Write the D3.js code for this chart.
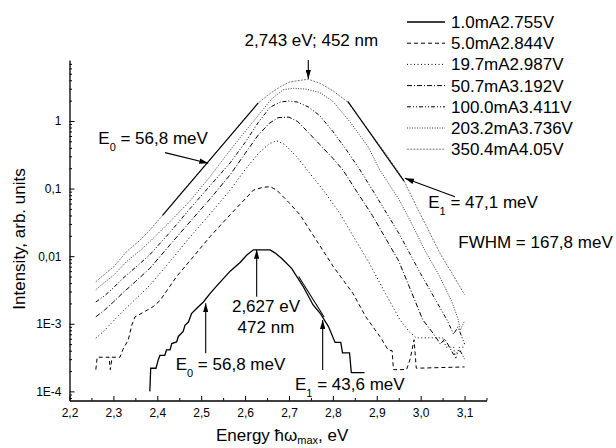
<!DOCTYPE html>
<html lang="en">
<head>
<meta charset="UTF-8">
<title>EL spectra</title>
<style>
  body { margin: 0; background: #fff; }
  text { font-family: "Liberation Sans", Arial, sans-serif; fill: #000; }
</style>
</head>
<body>
<script src="https://cdn.jsdelivr.net/npm/d3@7/dist/d3.min.js"></script>
<script>
const width = 616, height = 448

// legend labels (current / voltage)
const labels = ["1.0mA2.755V", "5.0mA2.844V", "19.7mA2.987V", "50.7mA3.192V",
                "100.0mA3.411V", "203.2mA3.736V", "350.4mA4.05V"]

// spectra: [energy eV, intensity arb. units]
const s1mA = [[2.383,1.0e-4],[2.385,2.2e-4],[2.397,2.2e-4],[2.402,2.9e-4],[2.406,3.4e-4],[2.417,3.4e-4],[2.421,4.1e-4],
  [2.429,4.1e-4],[2.433,5.1e-4],[2.444,5.4e-4],[2.448,6.5e-4],[2.459,7.7e-4],[2.463,9.5e-4],[2.471,1.06e-3],[2.478,1.42e-3],
  [2.490,1.7e-3],[2.505,2.1e-3],[2.52,2.8e-3],[2.535,3.6e-3],[2.566,6.0e-3],[2.588,8.0e-3],[2.604,0.0104],[2.619,0.0124],
  [2.657,0.0124],[2.668,0.0112],[2.683,0.0093],[2.706,0.0066],[2.733,0.0035],[2.755,0.0019],[2.771,1.43e-3],[2.790,9.1e-4],
  [2.805,5.3e-4],[2.818,5.3e-4],[2.822,3.7e-4],[2.838,3.7e-4],[2.842,1.9e-4],[2.872,1.9e-4]]
const s5mA = [[2.26,2.1e-4],[2.263,3.2e-4],[2.29,3.2e-4],[2.293,2.1e-4],[2.297,3.2e-4],[2.315,3.2e-4],[2.322,4.2e-4],
  [2.334,5.8e-4],[2.342,9.6e-4],[2.349,1.26e-3],[2.37,1.5e-3],[2.391,1.8e-3],[2.406,2.2e-3],[2.444,5.0e-3],[2.482,9.8e-3],
  [2.52,0.0194],[2.566,0.041],[2.60,0.07],[2.619,0.095],[2.64,0.104],[2.657,0.107],[2.672,0.095],[2.70,0.062],[2.725,0.041],
  [2.763,0.017],[2.801,0.007],[2.846,0.0028],[2.875,0.00127],[2.907,6.5e-4],[2.926,4.1e-4],[2.935,4.0e-4],[2.938,2.1e-4],
  [2.968,2.1e-4],[2.976,3.0e-4],[2.985,5.8e-4],[2.99,2.2e-4],[3.10,2.3e-4]]
const s19mA = [[2.26,6.1e-4],[2.28,8e-4],[2.30,1.1e-3],[2.32,1.5e-3],[2.35,2.3e-3],[2.383,3.7e-3],[2.43,8.5e-3],
  [2.474,0.019],[2.52,0.042],[2.566,0.095],[2.60,0.19],[2.63,0.33],[2.655,0.46],[2.672,0.51],[2.69,0.45],[2.717,0.30],
  [2.75,0.16],[2.778,0.095],[2.816,0.043],[2.85,0.018],[2.881,0.0083],[2.92,0.0028],[2.953,0.00114],[2.975,7.5e-4],
  [2.99,6.2e-4],[3.05,6.2e-4],[3.058,4.5e-4],[3.075,4.5e-4],[3.08,3.0e-4],[3.088,4.5e-4],[3.10,4.5e-4]]
const s50mA = [[2.26,1.27e-3],[2.28,1.6e-3],[2.30,2.1e-3],[2.32,2.8e-3],[2.35,4.2e-3],[2.383,6.6e-3],[2.43,0.015],
  [2.474,0.032],[2.52,0.07],[2.566,0.16],[2.60,0.33],[2.63,0.62],[2.655,0.92],[2.675,1.12],[2.70,1.14],[2.72,0.98],
  [2.74,0.72],[2.77,0.45],[2.80,0.28],[2.823,0.188],[2.85,0.10],[2.89,0.04],[2.95,0.0085],[3.005,0.00114],[3.03,7e-4],
  [3.045,5e-4],[3.055,6e-4],[3.075,3.5e-4],[3.09,4e-4],[3.10,3e-4]]
const s100mA = [[2.26,2.1e-3],[2.28,2.6e-3],[2.30,3.4e-3],[2.32,4.6e-3],[2.35,6.8e-3],[2.383,0.0105],[2.43,0.023],
  [2.474,0.05],[2.52,0.11],[2.566,0.24],[2.60,0.48],[2.63,0.95],[2.657,1.6],[2.68,1.9],[2.70,1.98],[2.72,1.9],[2.745,1.6],
  [2.77,1.2],[2.80,0.7],[2.83,0.38],[2.862,0.188],[2.90,0.075],[2.95,0.022],[3.00,0.0055],[3.03,0.0025],[3.06,0.00114],
  [3.075,7e-4],[3.085,9e-4],[3.10,5e-4]]
const s203mA = [[2.26,3.2e-3],[2.28,4.1e-3],[2.30,5.2e-3],[2.33,8.3e-3],[2.36,0.012],[2.383,0.0164],[2.43,0.033],
  [2.474,0.065],[2.52,0.15],[2.566,0.37],[2.60,0.70],[2.634,1.30],[2.66,2.1],[2.687,2.9],[2.71,3.05],[2.74,2.95],
  [2.77,2.65],[2.80,1.95],[2.84,0.95],[2.88,0.42],[2.907,0.188],[2.95,0.07],[2.98,0.03],[3.01,0.012],[3.04,0.0055],
  [3.07,0.0022],[3.085,0.0012],[3.09,8e-4],[3.10,0.0011]]
const s350mA = [[2.26,4.2e-3],[2.28,5.4e-3],[2.30,6.9e-3],[2.33,0.0117],[2.36,0.017],[2.383,0.0244],[2.412,0.040],
  [2.45,0.08],[2.50,0.19],[2.55,0.45],[2.60,1.1],[2.63,1.85],[2.657,2.55],[2.68,3.2],[2.70,3.75],[2.72,3.95],[2.744,4.14],
  [2.771,3.6],[2.80,2.8],[2.834,1.9],[2.88,0.75],[2.92,0.33],[2.96,0.14],[2.99,0.055],[3.014,0.0272],[3.044,0.011],
  [3.07,0.0058],[3.10,0.0027]]
const spectra = [s1mA, s5mA, s19mA, s50mA, s100mA, s203mA, s350mA]

// exponential fits of the tails (straight on log axis)
const fits = [
  [[2.412,0.040],[2.630,1.85]],     // E0 = 56,8 meV, 350.4 mA
  [[2.834,1.95],[2.962,0.129]],     // E1 = 47,1 meV, 350.4 mA
  [[2.722,0.0050],[2.78,0.00126]]   // E1 = 43,6 meV, 1.0 mA
]

// ticks
const xMajor = [2.2,2.3,2.4,2.5,2.6,2.7,2.8,2.9,3.0,3.1]
const xMinor = [2.25,2.35,2.45,2.55,2.65,2.75,2.85,2.95,3.05,3.15]
const yMajor = [1e-4,1e-3,1e-2,1e-1,1]
const yTickLabels = ["1E-4","1E-3","0,01","0,1","1"]

// line styles per series
const dashes = [null, "4,3", "1,2.5", "5,2,1,2", "4,2,1,2,1,2", "1,1.5", "2,1.2"]
const colors = ["#000","#000","#000","#000","#000","#333","#777"]

const x = d3.scaleLinear().domain([2.2, 3.15]).range([69.5, 486.5])
const y = d3.scaleLog().domain([7.33e-5, 7.98]).range([400.5, 60])

const svg = d3.select("body").append("svg")
  .attr("width", width).attr("height", height)

// minor y ticks 2..9 each decade
const yMinor = []
d3.range(-5, 1).forEach(p => {
  d3.range(2, 10).forEach(m => {
    const v = m * Math.pow(10, p)
    if (v > y.domain()[0] && v < y.domain()[1]) yMinor.push(v)
  })
})

const defs = svg.append("defs")
defs.append("marker").attr("id", "head")
  .attr("viewBox", "0 0 10 6").attr("refX", 10).attr("refY", 3)
  .attr("markerUnits", "userSpaceOnUse")
  .attr("markerWidth", 9).attr("markerHeight", 5.5).attr("orient", "auto")
  .append("path").attr("d", "M0,0 L10,3 L0,6 Z").attr("fill", "#000")

// curves
const line = d3.line().x(d => x(d[0])).y(d => y(d[1]))
svg.append("g").selectAll("path")
  .data(spectra)
  .enter().append("path")
  .attr("d", line)
  .attr("fill", "none")
  .attr("stroke", (d, i) => colors[i])
  .attr("stroke-width", (d, i) => i == 0 ? 1.3 : 1)
  .attr("stroke-dasharray", (d, i) => dashes[i])

svg.append("g").selectAll("path")
  .data(fits)
  .enter().append("path")
  .attr("d", line)
  .attr("fill", "none")
  .attr("stroke", "#000")
  .attr("stroke-width", 1.1)

// axes
const fmtX = d => d3.format(".1f")(d).replace(".", ",")
const xg = svg.append("g").attr("transform", "translate(0,400.5)")
xg.call(d3.axisBottom(x).tickValues(xMajor).tickSize(-4.5).tickSizeOuter(0).tickPadding(8).tickFormat(fmtX))
xg.append("g").call(d3.axisBottom(x).tickValues(xMinor).tickSize(-2.5).tickFormat(""))
  .select(".domain").remove()

const yg = svg.append("g").attr("transform", "translate(69.5,0)")
yg.call(d3.axisLeft(y).tickValues(yMajor).tickSize(-5).tickSizeOuter(0).tickPadding(8)
  .tickFormat((d, i) => yTickLabels[i]))
yg.append("g").call(d3.axisLeft(y).tickValues(yMinor).tickSize(-2.5).tickFormat(""))
  .select(".domain").remove()

svg.selectAll(".domain").attr("stroke-width", 1.3)
svg.selectAll(".tick line").attr("stroke-width", 1)
svg.selectAll(".tick text").attr("font-size", 12)
  .attr("font-family", "Liberation Sans, Arial, sans-serif")

// axis titles
svg.append("text")
  .attr("transform", "translate(25,239) rotate(-90)")
  .attr("text-anchor", "middle").attr("font-size", 17)
  .text("Intensity, arb. units")

const xt = svg.append("text").attr("x", 216).attr("y", 441).attr("font-size", 17)
xt.append("tspan").text("Energy ħω")
xt.append("tspan").attr("dy", 3).attr("font-size", 11).text("max")
xt.append("tspan").attr("dy", -3).text(", eV")

// legend
const legend = svg.append("g").selectAll("g")
  .data(labels)
  .enter().append("g")
  .attr("transform", (d, i) => "translate(0," + (28 + i * 21.2) + ")")
legend.append("line")
  .attr("x1", 407).attr("x2", 445).attr("y1", -6).attr("y2", -6)
  .attr("stroke", (d, i) => colors[i])
  .attr("stroke-width", (d, i) => i == 0 ? 1.3 : 1)
  .attr("stroke-dasharray", (d, i) => dashes[i])
legend.append("text").attr("x", 451).attr("font-size", 17).text(d => d)

// annotations (data coordinates)
const arrows = [
  [[2.744,7.98],[2.744,4.2]],
  [[2.4175,0.34],[2.5162,0.237]],
  [[3.0781,0.0759],[2.9642,0.142]],
  [[2.6264,2.52e-3],[2.6264,0.0124]],
  [[2.5103,3.66e-4],[2.5103,2.01e-3]],
  [[2.7768,2.07e-4],[2.7768,1.14e-3]]
]
svg.append("g").selectAll("line")
  .data(arrows)
  .enter().append("line")
  .attr("x1", d => x(d[0][0])).attr("y1", d => y(d[0][1]))
  .attr("x2", d => x(d[1][0])).attr("y2", d => y(d[1][1]))
  .attr("stroke", "#000").attr("stroke-width", 1.1)
  .attr("marker-end", "url(#head)")

const notes = [
  {at:[2.751,12.65], text:"2,743 eV; 452 nm", anchor:"middle"},
  {at:[3.0857,0.0131], text:"FWHM = 167,8 meV", anchor:"start"},
  {at:[2.6476,1.51e-3], text:"2,627 eV", anchor:"middle"},
  {at:[2.6476,7.23e-4], text:"472 nm", anchor:"middle"}
]
svg.append("g").selectAll("text")
  .data(notes)
  .enter().append("text")
  .attr("x", d => x(d.at[0])).attr("y", d => y(d.at[1]))
  .attr("text-anchor", d => d.anchor)
  .attr("font-size", 17)
  .text(d => d.text)

// E0 / E1 labels with subscript
const slopes = [
  {at:[2.2656,0.457], sub:"0", rest:" = 56,8 meV"},
  {at:[3.0173,0.0511], sub:"1", rest:" = 47,1 meV"},
  {at:[2.4419,2.07e-4], sub:"0", rest:" = 56,8 meV"},
  {at:[2.7137,1.05e-4], sub:"1", rest:" = 43,6 meV"}
]
const st = svg.append("g").selectAll("text")
  .data(slopes)
  .enter().append("text")
  .attr("x", d => x(d.at[0])).attr("y", d => y(d.at[1]))
  .attr("font-size", 17)
st.append("tspan").text("E")
st.append("tspan").attr("dy", 7).attr("font-size", 11).text(d => d.sub)
st.append("tspan").attr("dy", -7).text(d => d.rest)
</script>
</body>
</html>
